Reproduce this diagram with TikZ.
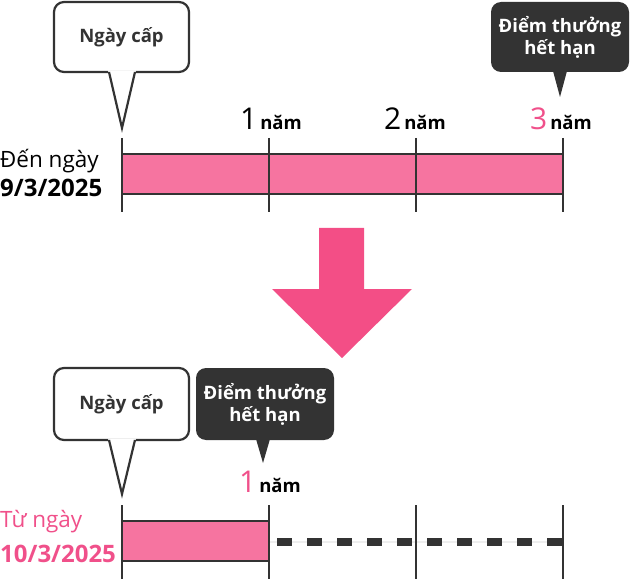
\documentclass[tikz,border=0pt]{standalone}
\usepackage{fontspec}
\setmainfont{Open Sans}
\usetikzlibrary{arrows}
\definecolor{charcoal}{HTML}{333333}
\definecolor{barpink}{HTML}{F674A0}
\definecolor{arrowpink}{HTML}{F34E86}
\definecolor{textpink}{HTML}{F0508A}
\definecolor{ghost}{HTML}{EEEEEE}

\tikzset{
  tick/.style={charcoal, line width=2pt},
  bar/.style={draw=charcoal, fill=barpink, line width=2.5pt},
  bubble/.style={font=\bfseries\fontsize{18.5}{22}\selectfont, align=center},
  year/.style={anchor=base, inner sep=0pt, font=\bfseries\fontsize{18.5}{22}\selectfont},
  datelabel/.style={anchor=base west, inner sep=0pt, font=\fontsize{22.5}{26}\selectfont},
  datebold/.style={datelabel, font=\bfseries\fontsize{24}{26}\selectfont},
}
\newcommand{\yearnum}[1]{{\mdseries\fontsize{30}{30}\selectfont #1}\kern3pt}

\begin{document}
\begin{tikzpicture}[x=1pt, y=-1pt]
\useasboundingbox (0,0) rectangle (630,583);

           % Ngay cap (top)
           \draw[charcoal, line width=2.2pt, fill=white, rounded corners=10pt] (54,2) rectangle (189,72);
           \fill[white] (108,70.5) -- (122,126) -- (136,70.5) -- cycle;
           \draw[charcoal, line width=2.2pt] (109,72) -- (122,128) -- (135,72);
           \node[bubble, text=charcoal] (issuetop) at (121.5,37) {Ngày cấp};

           % Expiry (top)
           \fill[charcoal, rounded corners=10pt] (491,2) rectangle (629,72);
           \fill[charcoal] (553,71) -- (560,97) -- (567,71) -- cycle;
           \node[bubble, text=white] (expiretop) at (560,37) {Điểm thưởng\\hết hạn};

           % Years
           \node[year] (yearone) at (271,130) {\yearnum{1}năm};
           \node[year] (yeartwo) at (415,130) {\yearnum{2}năm};
           \node[year] (yearthree) at (561,130) {\yearnum{\textcolor{textpink}{3}}năm};

           % Bar (top)
           \draw[bar] (122,154) rectangle (563,194);
           \foreach \x in {122,269,416,563}
             \draw[tick] (\x,138) -- (\x,212);
           \node[datelabel] (fromtext) at (0,168) {Đến ngày};
           \node[datebold] (fromdate) at (0,197) {9/3/2025};

           % Arrow
           \fill[arrowpink] (319,228) -- (364,228) -- (364,289) -- (412,289)
           -- (342,358) -- (272,289) -- (319,289) -- cycle;

           % Ngay cap (bottom)
           \draw[charcoal, line width=2.2pt, fill=white, rounded corners=10pt] (54,368) rectangle (189,440);
           \fill[white] (108,438.5) -- (122,492) -- (136,438.5) -- cycle;
           \draw[charcoal, line width=2.2pt] (109,440) -- (122,494) -- (135,440);
           \node[bubble, text=charcoal] (issuebot) at (121.5,404) {Ngày cấp};

           % Expiry (bottom)
           \fill[charcoal, rounded corners=10pt] (196,368) rectangle (334,440);
           \fill[charcoal] (256,439) -- (263,463) -- (270,439) -- cycle;
           \node[bubble, text=white] (expirebot) at (265,404) {Điểm thưởng\\hết hạn};

           \node[year] (yearnew) at (270,492) {\yearnum{\textcolor{textpink}{1}}năm};

           % Bar (bottom)
           \draw[ghost, line width=2pt] (269,542) -- (563,542);
           \draw[charcoal, line width=8pt, dash pattern=on 15pt off 15pt] (277,542) -- (563,542);
           \draw[bar] (122,521) rectangle (269,561);
           \foreach \x in {122,269,416,563}
             \draw[tick] (\x,505) -- (\x,579);
           \node[datelabel, text=textpink] (totext) at (0,527) {Từ ngày};
           \node[datebold, text=textpink] (todate) at (0,562) {10/3/2025};

\end{tikzpicture}
\end{document}
